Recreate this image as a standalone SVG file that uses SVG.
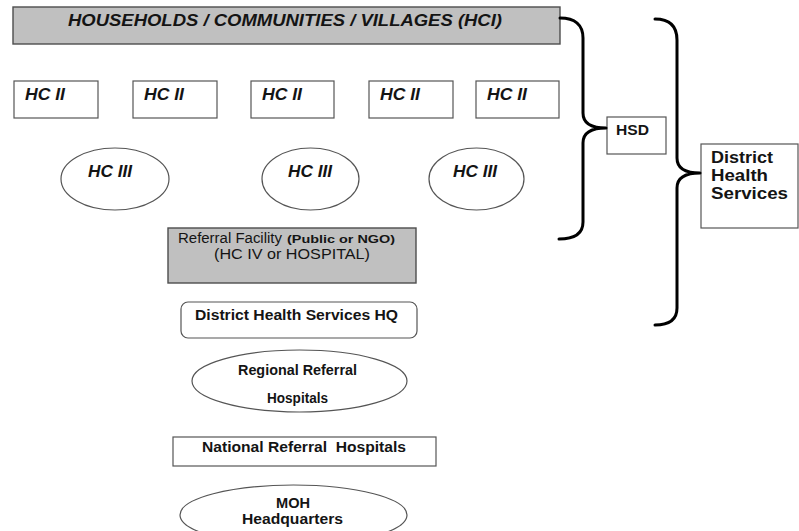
<svg xmlns="http://www.w3.org/2000/svg" width="799" height="531" viewBox="0 0 799 531">
<style>
.box{fill:#ffffff;stroke:#555555;stroke-width:1.2}
.grey{fill:#c0c0c0;stroke:#4d4d4d;stroke-width:1.4}
.ell{fill:#ffffff;stroke:#555555;stroke-width:1.2}
.brace{fill:none;stroke:#000000;stroke-width:3;stroke-linecap:round;stroke-linejoin:round}
text{font-family:"Liberation Sans",Arial,sans-serif;fill:#141414}
.bi{font-weight:bold;font-style:italic;font-size:16px}
.b14{font-weight:bold;font-size:14px}
.b16{font-weight:bold;font-size:16px}
.r14{font-size:14px}
.b11{font-weight:bold;font-size:11px}
</style>
<rect width="799" height="531" fill="#ffffff"/>
<g id="hci">
<rect class="grey" x="13" y="7" width="547" height="37"/>
<text class="bi" x="68" y="26" textLength="434" lengthAdjust="spacingAndGlyphs">HOUSEHOLDS / COMMUNITIES / VILLAGES (HCI)</text>
</g>
<g id="hc2-1"><rect class="box" x="14" y="81" width="84" height="37"/><text class="bi" x="25" y="100" textLength="40" lengthAdjust="spacingAndGlyphs">HC II</text></g>
<g id="hc2-2"><rect class="box" x="133" y="81" width="84" height="37"/><text class="bi" x="144" y="100" textLength="40" lengthAdjust="spacingAndGlyphs">HC II</text></g>
<g id="hc2-3"><rect class="box" x="251" y="81" width="83" height="37"/><text class="bi" x="262" y="100" textLength="40" lengthAdjust="spacingAndGlyphs">HC II</text></g>
<g id="hc2-4"><rect class="box" x="369" y="81" width="84" height="37"/><text class="bi" x="380" y="100" textLength="40" lengthAdjust="spacingAndGlyphs">HC II</text></g>
<g id="hc2-5"><rect class="box" x="476" y="81" width="83" height="37"/><text class="bi" x="487" y="100" textLength="40" lengthAdjust="spacingAndGlyphs">HC II</text></g>
<g id="hc3-1"><ellipse class="ell" cx="115" cy="179" rx="54" ry="31"/><text class="bi" x="88" y="177" textLength="44" lengthAdjust="spacingAndGlyphs">HC III</text></g>
<g id="hc3-2"><ellipse class="ell" cx="310.5" cy="179" rx="48.5" ry="31"/><text class="bi" x="288" y="177" textLength="44" lengthAdjust="spacingAndGlyphs">HC III</text></g>
<g id="hc3-3"><ellipse class="ell" cx="476.5" cy="179" rx="47.5" ry="31"/><text class="bi" x="453" y="177" textLength="44" lengthAdjust="spacingAndGlyphs">HC III</text></g>
<g id="referral">
<rect class="grey" x="168" y="228" width="248" height="55"/>
<text x="178" y="243"><tspan class="r14" textLength="104" lengthAdjust="spacingAndGlyphs">Referral Facility</tspan><tspan class="b11" x="287" textLength="108" lengthAdjust="spacingAndGlyphs">(Public or NGO)</tspan></text>
<text class="r14" x="214" y="259" textLength="156" lengthAdjust="spacingAndGlyphs">(HC IV or HOSPITAL)</text>
</g>
<g id="dhs-hq">
<rect class="box" x="181" y="302" width="236" height="36" rx="7"/>
<text class="b14" x="195" y="320" textLength="203" lengthAdjust="spacingAndGlyphs">District Health Services HQ</text>
</g>
<g id="regional">
<ellipse class="ell" cx="299.5" cy="381" rx="107.5" ry="31"/>
<text class="b14" x="238" y="375" textLength="119" lengthAdjust="spacingAndGlyphs">Regional Referral</text>
<text class="b14" x="267" y="403" textLength="61" lengthAdjust="spacingAndGlyphs">Hospitals</text>
</g>
<g id="national">
<rect class="box" x="173" y="437" width="263" height="29"/>
<text class="b14" x="202" y="452" textLength="204" lengthAdjust="spacingAndGlyphs" xml:space="preserve">National Referral  Hospitals</text>
</g>
<g id="moh">
<ellipse class="ell" cx="293.5" cy="515" rx="113.5" ry="30"/>
<text class="b14" x="293" y="508" text-anchor="middle" textLength="34" lengthAdjust="spacingAndGlyphs">MOH</text>
<text class="b14" x="292.5" y="524" text-anchor="middle" textLength="101" lengthAdjust="spacingAndGlyphs">Headquarters</text>
</g>
<g id="hsd">
<rect class="box" x="607" y="117" width="59" height="37"/>
<text class="b14" x="616" y="135" textLength="33" lengthAdjust="spacingAndGlyphs">HSD</text>
</g>
<g id="district-health-services">
<rect class="box" x="701" y="144" width="97" height="84"/>
<text class="b16" x="711" y="163" textLength="62" lengthAdjust="spacingAndGlyphs">District</text>
<text class="b16" x="711" y="181" textLength="57" lengthAdjust="spacingAndGlyphs">Health</text>
<text class="b16" x="711" y="199" textLength="77" lengthAdjust="spacingAndGlyphs">Services</text>
</g>
<g id="connectors">
<path class="brace" d="M560,18 C575,18 583,25 583,38 L583,113 C583,122 590,128 606,128 C590,128 583,134 583,143 L583,222 C583,233 575,239 559,239"/>
<path class="brace" d="M655,19 C670,19 677,26 677,40 L677,158 C677,167 684,173 700,173 C684,173 677,179 677,188 L677,308 C677,319 670,325 655,325"/>
</g>
</svg>
